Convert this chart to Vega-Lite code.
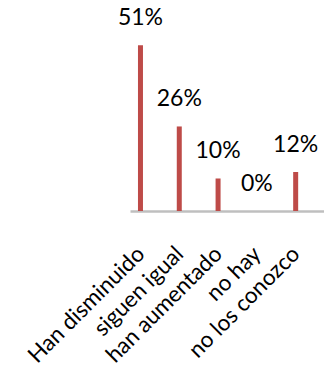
{
  "$schema": "https://vega.github.io/schema/vega-lite/v6.json",
  "autosize": {"type": "none"},
  "width": 194,
  "height": 211,
  "padding": {"left": 130, "top": 0, "right": 0, "bottom": 161},
  "background": "white",
  "data": {
    "values": [
      {"cat": "Han disminuido", "pct": 0.51},
      {"cat": "siguen igual", "pct": 0.26},
      {"cat": "han aumentado", "pct": 0.10},
      {"cat": "no hay", "pct": 0.0},
      {"cat": "no los conozco", "pct": 0.12}
    ]
  },
  "config": {"view": {"stroke": null}, "font": "Lato"},
  "encoding": {
    "x": {
      "field": "cat", "type": "nominal", "sort": null,
      "scale": {"type": "point", "padding": 0.5, "align": 0.27},
      "axis": {
        "title": null, "ticks": false, "labelAngle": -45, "labelAlign": "right", "labelBaseline": "middle",
        "labelFont": "Lato", "labelFontSize": 22.5, "labelColor": "#000000", "labelPadding": 39,
        "domainColor": "#BFBFBF", "domainWidth": 2.5, "labelOverlap": false, "labelLimit": 300
      }
    },
    "y": {
      "field": "pct", "type": "quantitative",
      "scale": {"domain": [0, 0.649], "nice": false},
      "axis": null
    }
  },
  "layer": [
    {"mark": {"type": "bar", "size": 5, "color": "#BE4B48"}},
    {
      "mark": {"type": "text", "baseline": "alphabetic", "align": "center", "dy": -20, "fontSize": 23, "font": "Lato", "color": "#000000"},
      "encoding": {"text": {"field": "pct", "type": "quantitative", "format": ".0%"}}
    }
  ]
}
